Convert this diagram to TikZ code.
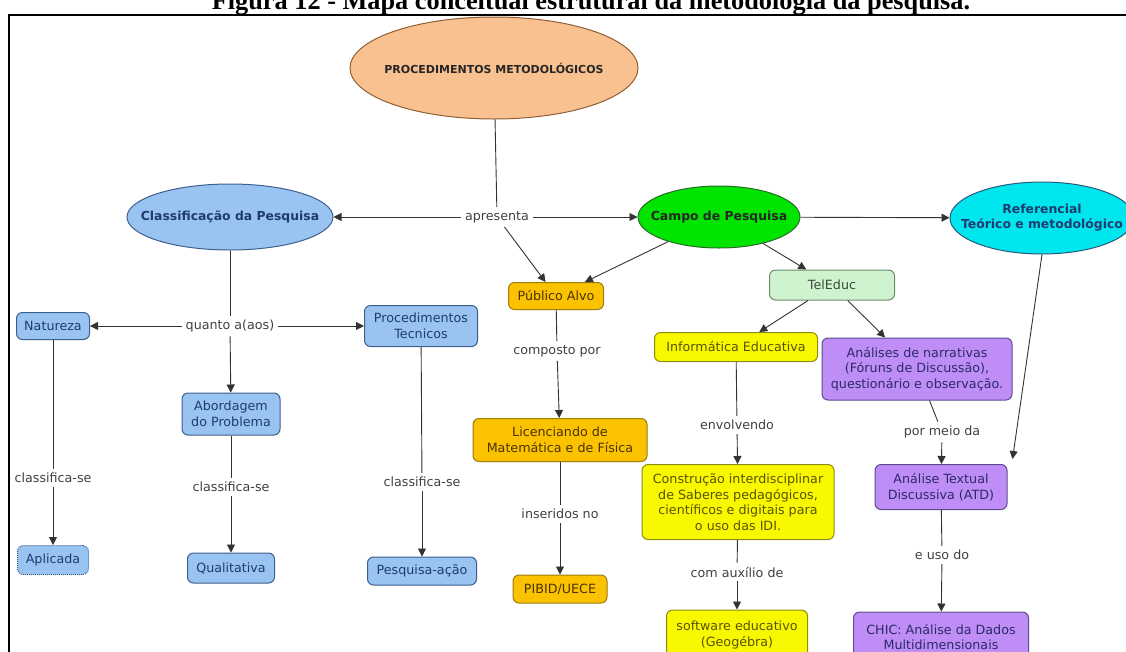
\documentclass[tikz,border=0pt]{standalone}
\usepackage{fontspec}
\setmainfont{DejaVu Sans}
\newfontfamily\titlefont{Liberation Serif}
\usetikzlibrary{shapes.geometric,arrows.meta}

% palette
\definecolor{linkgray}{HTML}{333333}
\definecolor{labelgray}{HTML}{404040}
\definecolor{bluefill}{HTML}{99C4F2}
\definecolor{blueedge}{HTML}{3D5F8C}
\definecolor{bluetext}{HTML}{1E3C6E}
\definecolor{orangefill}{HTML}{FBC200}
\definecolor{orangeedge}{HTML}{9C7B10}
\definecolor{orangetext}{HTML}{4A3300}
\definecolor{yellowfill}{HTML}{F8F800}
\definecolor{yellowedge}{HTML}{8C8C10}
\definecolor{yellowtext}{HTML}{5A5200}
\definecolor{purplefill}{HTML}{BE8EF6}
\definecolor{purpleedge}{HTML}{5B4B8F}
\definecolor{purpletext}{HTML}{2C2A6A}
\definecolor{telfill}{HTML}{CFF3CF}
\definecolor{teledge}{HTML}{6C8C6C}
\definecolor{teltext}{HTML}{3A4A3A}
\definecolor{peachfill}{HTML}{F9C18F}
\definecolor{peachedge}{HTML}{8F6035}
\definecolor{greenfill}{HTML}{00E400}
\definecolor{greenedge}{HTML}{2A6A2A}
\definecolor{cyanfill}{HTML}{00E6EE}
\definecolor{cyanedge}{HTML}{2A5A7A}

\newcommand\mapfont{\fontsize{12.7}{15.5}\selectfont}
\newcommand\ovalfont{\bfseries\fontsize{12.4}{15}\selectfont}

\tikzset{
  concept/.style={draw, line width=1pt, rounded corners=6pt, align=center,
    font=\mapfont, inner sep=0pt},
  bluebox/.style={concept, fill=bluefill, draw=blueedge, text=bluetext},
  orangebox/.style={concept, fill=orangefill, draw=orangeedge, text=orangetext},
  yellowbox/.style={concept, fill=yellowfill, draw=yellowedge, text=yellowtext},
  purplebox/.style={concept, fill=purplefill, draw=purpleedge, text=purpletext},
  telbox/.style={concept, fill=telfill, draw=teledge, text=teltext},
  % the oval keeps its given size; its caption is set as a centred label
  oval/.style={ellipse, draw, line width=1pt, inner sep=0pt},
  ovaltext/.style={align=center, inner sep=0pt, font=\ovalfont},
  linklabel/.style={font=\mapfont, text=labelgray, inner sep=4pt},
  link/.style={draw=linkgray, line width=0.9pt},
  arrowlink/.style={link, -{Triangle[length=8pt,width=8pt]}},
  sz/.style args={#1x#2}{minimum width=#1pt, minimum height=#2pt}
}

\begin{document}
\begin{tikzpicture}[x=1pt,y=-1pt]
\useasboundingbox (0,0) rectangle (1126,651);
\clip (0,0) rectangle (1126,651);

% caption and frame
\node[anchor=base, inner sep=0pt, font=\titlefont\bfseries\fontsize{26.3}{26.3}\selectfont] (title) at (591,9.5)
  {Figura 12 - Mapa conceitual estrutural da metodologia da pesquisa.};
\draw[line width=2pt] (9,15) rectangle (1150,700);

% main concepts
\node[oval, fill=peachfill, draw=peachedge, sz=288x102,
  label={[ovaltext, text=black!85, font=\bfseries\fontsize{11}{13}\selectfont]center:PROCEDIMENTOS METODOLÓGICOS}] (proc) at (494,68) {};
\node[oval, fill=bluefill, draw=blueedge, sz=206x66,
  label={[ovaltext, text=bluetext]center:Classificação da Pesquisa}] (class) at (230,217) {};
\node[oval, fill=greenfill, draw=greenedge, sz=162x62,
  label={[ovaltext, text=black!85]center:Campo de Pesquisa}] (campo) at (719,217) {};
\node[oval, fill=cyanfill, draw=cyanedge, sz=184x72,
  label={[ovaltext, text=bluetext]center:Referencial\\Teórico e metodológico}] (ref) at (1042,218) {};
\node[linklabel] (apres) at (497,217) {apresenta};

% research classification branch
\node[bluebox, sz=73x27] (nat) at (53,326) {Natureza};
\node[linklabel] (quanto) at (230,326) {quanto a(aos)};
\node[bluebox, sz=113x41] (proctec) at (421,326) {Procedimentos\\Tecnicos};
\node[bluebox, sz=98x42] (abord) at (231,414) {Abordagem\\do Problema};
\node[linklabel] (cls1) at (53,478) {classifica-se};
\node[linklabel] (cls2) at (231,487) {classifica-se};
\node[linklabel] (cls3) at (422,482) {classifica-se};
\node[bluebox, densely dotted, sz=71x29] (apl) at (53,560) {Aplicada};
\node[bluebox, sz=87x30] (qual) at (231,568) {Qualitativa};
\node[bluebox, sz=109x28] (pesq) at (422,571) {Pesquisa-ação};

% target audience branch
\node[orangebox, sz=95x27] (pub) at (556,296) {Público Alvo};
\node[linklabel] (comp) at (557,351) {composto por};
\node[orangebox, sz=174x43] (lic) at (560,440) {Licenciando de\\Matemática e de Física};
\node[linklabel] (inser) at (560,514) {inseridos no};
\node[orangebox, sz=94x28] (pibid) at (560,589) {PIBID/UECE};

% TelEduc branch
\node[telbox, sz=125x30] (tel) at (832,285) {TelEduc};
\node[yellowbox, sz=163x29] (info) at (736,347) {Informática Educativa};
\node[linklabel] (envol) at (737,425) {envolvendo};
\node[yellowbox, sz=192x75] (constr) at (738,502) {Construção interdisciplinar\\de Saberes pedagógicos,\\científicos e digitais para\\o uso das IDI.};
\node[linklabel] (auxil) at (737,572) {com auxílio de};
\node[yellowbox, sz=141x50] (soft) at (737,635) {software educativo\\(Geogébra)};

\node[purplebox, sz=190x62] (anal) at (917,369) {Análises de narrativas\\(Fóruns de Discussão),\\questionário e observação.};
\node[linklabel] (meio) at (942,432) {por meio da};
\node[purplebox, sz=132x45] (atd) at (941,487) {Análise Textual\\Discussiva (ATD)};
\node[linklabel] (uso) at (942,555) {e uso do};
\node[purplebox, sz=175x50] (chic) at (941,637) {CHIC: Análise da Dados\\Multidimensionais};

% connectors
\draw[link] (proc) -- (apres);
\draw[arrowlink] (apres) -- (class);
\draw[arrowlink] (apres) -- (campo);
\draw[arrowlink] (apres) -- (pub);
\draw[arrowlink] (campo) -- (pub);
\draw[arrowlink] (campo) -- (tel);
\draw[arrowlink] (campo) -- (ref);

\draw[link] (class) -- (quanto);
\draw[arrowlink] (quanto) -- (nat);
\draw[arrowlink] (quanto) -- (proctec);
\draw[arrowlink] (quanto) -- (abord);
\draw[link] (nat) -- (cls1);
\draw[arrowlink] (cls1) -- (apl);
\draw[link] (abord) -- (cls2);
\draw[arrowlink] (cls2) -- (qual);
\draw[link] (proctec) -- (cls3);
\draw[arrowlink] (cls3) -- (pesq);

\draw[link] (pub) -- (comp);
\draw[arrowlink] (comp) -- (lic);
\draw[link] (lic) -- (inser);
\draw[arrowlink] (inser) -- (pibid);

\draw[arrowlink] (tel) -- (info);
\draw[arrowlink] (tel) -- (anal);
\draw[link] (info) -- (envol);
\draw[arrowlink] (envol) -- (constr);
\draw[link] (constr) -- (auxil);
\draw[arrowlink] (auxil) -- (soft);

\draw[link] (anal) -- (meio);
\draw[arrowlink] (meio) -- (atd);
\draw[arrowlink] (ref.south) -- ([xshift=5pt,yshift=5pt]atd.north east);
\draw[link] (atd) -- (uso);
\draw[arrowlink] (uso) -- (chic);
\end{tikzpicture}
\end{document}
